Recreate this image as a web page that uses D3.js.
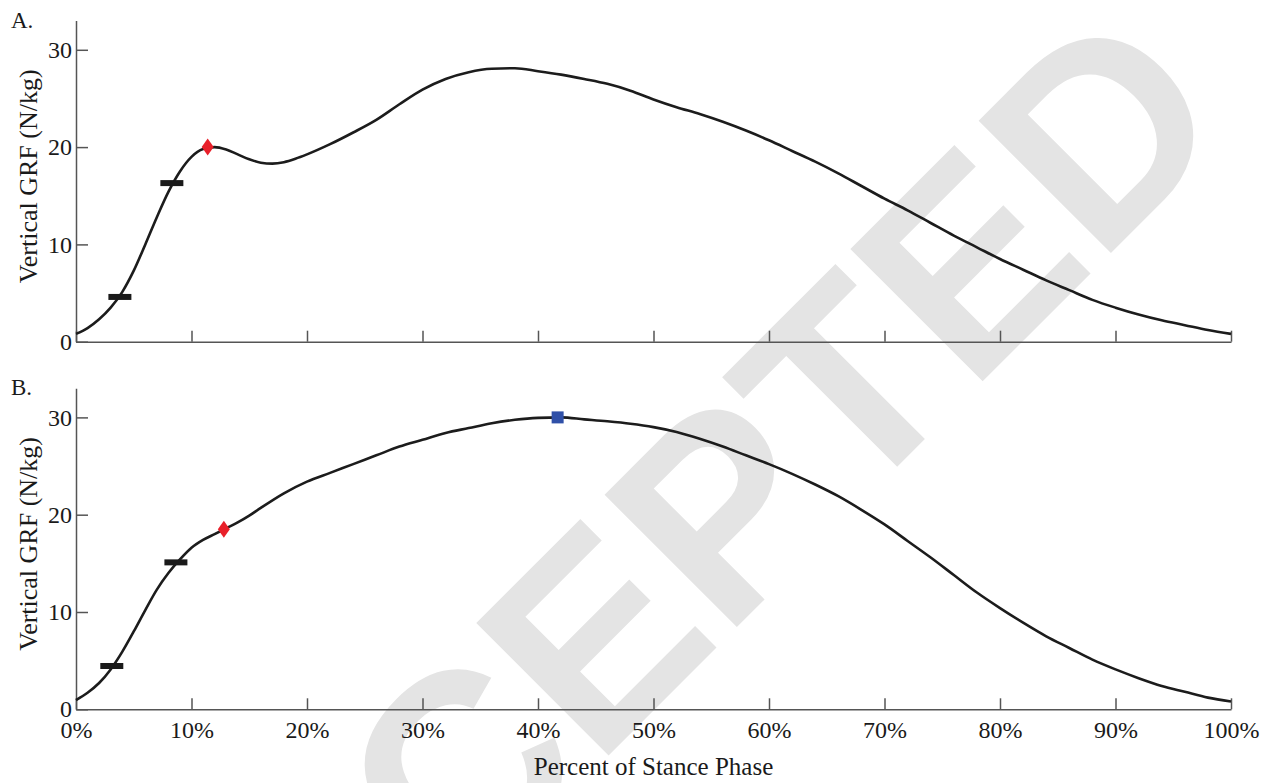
<!DOCTYPE html>
<html>
<head>
<meta charset="utf-8">
<script src="https://cdn.jsdelivr.net/npm/d3@7"></script>
<style>
  body { margin: 0; background: #fff; }
  svg text { font-family: "Liberation Serif", "Times New Roman", serif; fill: #1a1a1a; }
</style>
</head>
<body>
<div id="chart"></div>
<script>
// percent of stance phase for the curves
var stancePctA = [0, 1, 2, 3, 4, 5, 6, 7, 8, 9, 10, 11, 12, 13, 14, 15, 16, 17, 18, 19, 20, 22, 24, 26, 28, 30, 32, 34, 36, 38, 40, 42, 44, 46, 48, 50, 52, 54, 56, 58, 60, 62, 64, 66, 68, 70, 72, 74, 76, 78, 80, 82, 84, 86, 88, 90, 92, 94, 96, 98, 100];
var grfA = [0.8, 1.4, 2.3, 3.5, 5.1, 7.3, 10.0, 12.8, 15.4, 17.5, 19.0, 19.8, 20.0, 19.75, 19.25, 18.75, 18.4, 18.3, 18.45, 18.8, 19.25, 20.3, 21.5, 22.8, 24.4, 25.9, 27.0, 27.7, 28.05, 28.1, 27.8, 27.45, 27.0, 26.5, 25.8, 24.9, 24.1, 23.4, 22.6, 21.7, 20.7, 19.6, 18.5, 17.3, 16.0, 14.7, 13.5, 12.2, 10.9, 9.7, 8.5, 7.4, 6.3, 5.3, 4.3, 3.5, 2.8, 2.2, 1.7, 1.2, 0.8];

var stancePctB = [0, 1, 2, 3, 4, 5, 6, 7, 8, 9, 10, 11, 12, 13, 14, 15, 16, 18, 20, 22, 24, 26, 28, 30, 32, 34, 36, 38, 40, 42, 44, 46, 48, 50, 52, 54, 56, 58, 60, 62, 64, 66, 68, 70, 72, 74, 76, 78, 80, 82, 84, 86, 88, 90, 92, 94, 96, 98, 100];
var grfB = [0.95, 1.7, 2.7, 4.1, 5.9, 8.0, 10.2, 12.3, 14.0, 15.4, 16.6, 17.4, 18.0, 18.6, 19.2, 19.9, 20.7, 22.2, 23.4, 24.3, 25.2, 26.1, 27.0, 27.7, 28.4, 28.9, 29.4, 29.75, 29.95, 30.0, 29.8, 29.6, 29.35, 29.0, 28.5, 27.8, 27.0, 26.1, 25.2, 24.2, 23.1, 21.9, 20.5, 19.0, 17.3, 15.6, 13.8, 12.0, 10.4, 8.9, 7.5, 6.3, 5.1, 4.1, 3.2, 2.4, 1.8, 1.2, 0.8];

// event markers [percent, value]
var dashesA = [[3.8, 4.6], [8.3, 16.3]];
var diamondA = [[11.4, 20.0]];
var dashesB = [[3.1, 4.45], [8.65, 15.1]];
var diamondB = [[12.8, 18.5]];
var squareB = [[41.7, 30.0]];

var xTicks = [0, 10, 20, 30, 40, 50, 60, 70, 80, 90, 100];
var yTicks = [0, 10, 20, 30];
var panelLabels = ["A.", "B."];

var width = 1274, height = 783;

var svg = d3.select("#chart")
    .append("svg")
    .attr("width", width)
    .attr("height", height);

// watermark behind everything
svg.append("text")
    .attr("transform", "translate(708,656) rotate(-45)")
    .attr("text-anchor", "middle")
    .style("font-family", "'Liberation Sans', Arial, sans-serif")
    .style("font-weight", "bold")
    .style("font-size", "272px")
    .style("fill", "#e4e4e4")
    .text("ACCEPTED");

var x = d3.scaleLinear().domain([0, 100]).range([76, 1231]);

var panels = [
    { label: panelLabels[0], pct: stancePctA, grf: grfA, dashes: dashesA, diamonds: diamondA, squares: [], bottom: 341.7, showX: false },
    { label: panelLabels[1], pct: stancePctB, grf: grfB, dashes: dashesB, diamonds: diamondB, squares: squareB, bottom: 709.3, showX: true }
];

panels.forEach(function (p) {
    var y = d3.scaleLinear().domain([0, 33]).range([p.bottom, p.bottom - 321.1]);
    var g = svg.append("g");

    // x axis
    var xAxis = g.append("g")
        .attr("transform", "translate(0," + p.bottom + ")")
        .call(d3.axisBottom(x)
            .tickValues(xTicks)
            .tickSizeInner(-11)
            .tickSizeOuter(0)
            .tickPadding(12)
            .tickFormat(function (d) { return p.showX ? d + "%" : ""; }));

    // y axis
    var yAxis = g.append("g")
        .attr("transform", "translate(76,0)")
        .call(d3.axisLeft(y)
            .tickValues(yTicks)
            .tickSizeInner(-12)
            .tickSizeOuter(0)
            .tickPadding(4));

    [xAxis, yAxis].forEach(function (a) {
        a.selectAll("path, line").attr("stroke", "#555").attr("stroke-width", 1.5);
        a.selectAll("text")
            .style("font-family", "'Liberation Serif', 'Times New Roman', serif")
            .style("font-size", "24px")
            .attr("fill", "#1a1a1a");
    });

    // curve
    var line = d3.line()
        .x(function (d, i) { return x(p.pct[i]); })
        .y(function (d) { return y(d); })
        .curve(d3.curveMonotoneX);

    g.append("path")
        .datum(p.grf)
        .attr("fill", "none")
        .attr("stroke", "#1c1c1c")
        .attr("stroke-width", 2.6)
        .attr("d", line);

    // black dash markers
    g.selectAll(".dash")
        .data(p.dashes)
        .enter()
        .append("rect")
        .attr("x", function (d) { return x(d[0]) - 11.5; })
        .attr("y", function (d) { return y(d[1]) - 3; })
        .attr("width", 23)
        .attr("height", 6)
        .attr("fill", "#1a1a1a");

    // red diamonds
    g.selectAll(".diamond")
        .data(p.diamonds)
        .enter()
        .append("path")
        .attr("d", function (d) {
            var cx = x(d[0]), cy = y(d[1]);
            return "M" + cx + "," + (cy - 8.5) + "L" + (cx + 6) + "," + cy +
                "L" + cx + "," + (cy + 8.5) + "L" + (cx - 6) + "," + cy + "Z";
        })
        .attr("fill", "#e8202a");

    // blue square
    g.selectAll(".square")
        .data(p.squares)
        .enter()
        .append("rect")
        .attr("x", function (d) { return x(d[0]) - 6; })
        .attr("y", function (d) { return y(d[1]) - 6; })
        .attr("width", 12)
        .attr("height", 12)
        .attr("fill", "#3050a8");

    // panel label
    g.append("text")
        .attr("x", 11)
        .attr("y", p.bottom - 314)
        .style("font-size", "23px")
        .text(p.label);

    // y axis title
    g.append("text")
        .attr("transform", "translate(37," + y(17) + ") rotate(-90)")
        .attr("text-anchor", "middle")
        .style("font-size", "26px")
        .text("Vertical GRF (N/kg)");
});

// x axis title
svg.append("text")
    .attr("x", x(50))
    .attr("y", 775)
    .attr("text-anchor", "middle")
    .style("font-size", "25px")
    .text("Percent of Stance Phase");
</script>
</body>
</html>
